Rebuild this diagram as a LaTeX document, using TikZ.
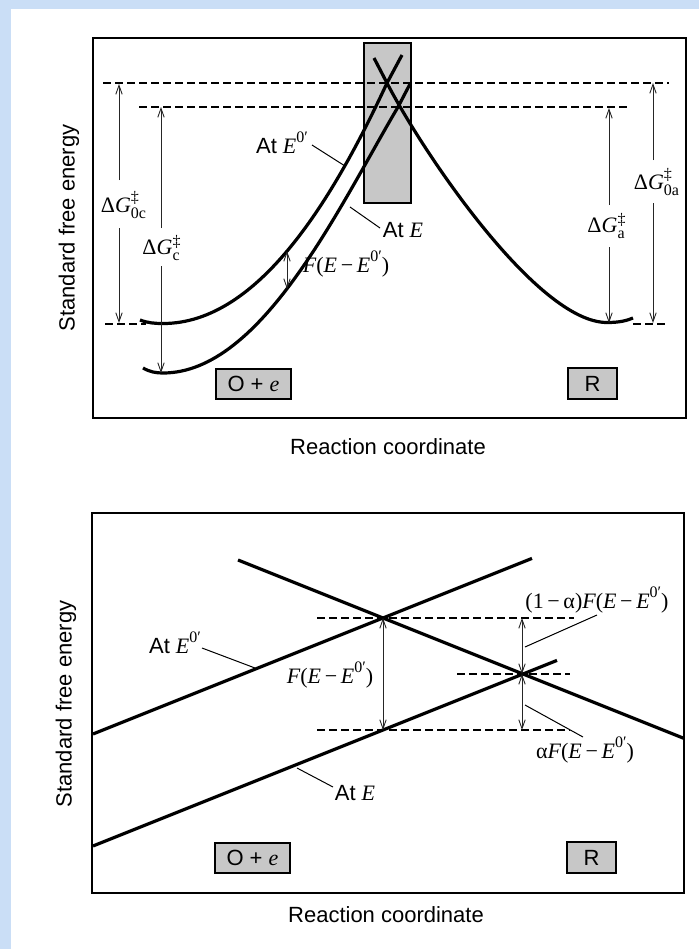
\documentclass[tikz,border=0pt]{standalone}
\usepackage{fontspec}
\setmainfont{Liberation Sans}
\newfontfamily\tms{Liberation Serif}
\usetikzlibrary{arrows.meta}
\definecolor{bgblue}{RGB}{202,222,246}
\newcommand{\tmsi}[1]{{\tms\itshape #1}}
\newcommand{\tmsr}[1]{{\tms #1}}
\newcommand{\tmsss}[1]{\mbox{\tms\fontsize{8}{9}\selectfont #1}}
\newcommand{\tmsup}[1]{\raisebox{0.9ex}{\tmsss{#1}}}
\newcommand{\Ezp}{\tmsi{E}\tmsup{0′}}
\newcommand{\FEE}{\tmsi{F}\tmsr{(}\tmsi{E}\tmsr{\,−\,}\Ezp\tmsr{)}}
\newcommand{\dG}[1]{$\mbox{\tmsr{Δ}\tmsi{G}}^{\tmsss{‡}}_{\tmsss{#1}}$}
\begin{document}
\begin{tikzpicture}[x=0.5pt,y=-0.5pt,
  curve/.style={line width=1.6pt, line join=round},
  frame/.style={line width=1pt},
  dline/.style={line width=0.6pt, dash pattern=on 4pt off 2pt},
  arr/.style={line width=0.45pt, black!85, -{Straight Barb[length=4.5pt,width=3.2pt]}},
  dbl/.style={line width=0.45pt, black!85, {Straight Barb[length=4.5pt,width=3.2pt]}-{Straight Barb[length=4.5pt,width=3.2pt]}},
  lead/.style={line width=0.5pt},
  lbl/.style={font=\fontsize{11}{13}\selectfont, inner sep=0pt},
  spec/.style={draw, line width=0.8pt, fill=black!22, font=\fontsize{11}{13}\selectfont, inner sep=0pt},
]
\fill[bgblue] (0,0) rectangle (699,949);
\fill[white] (11,9) rectangle (699,949);
\useasboundingbox (0,0) rectangle (699,949);

% ================= TOP PANEL =================
\draw[frame] (93,38) rectangle (686,418);
\node[spec, minimum width=23.5pt, minimum height=80pt] (ts) at (387.5,123) {};
\node[spec, minimum width=37.5pt, minimum height=15pt] (ox1) at (253.5,384) {O + \tmsi{e}};
\node[spec, minimum width=24.5pt, minimum height=15.5pt] (r1) at (592.5,383.5) {R};

\draw[dline] (103,83) -- (669,83);
\draw[dline] (139,107) -- (627,107);
\draw[dline] (105,324) -- (146,324);
\draw[dline] (633,324) -- (667,324);

% curve at E0'
\draw[curve] (140,320) .. controls (148,323) and (155,323.5) .. (163,323.5)
  .. controls (260,323.5) and (335,195) .. (387,83) -- (402,55);
% curve at E
\draw[curve] (143,368) .. controls (150,372) and (156,373) .. (163,373)
  .. controls (262,373) and (340,205) .. (398,107) -- (410,84);
% curve R
\draw[curve] (374,58) -- (387,83) .. controls (422,151) and (537,322.5) .. (607,322.5)
  .. controls (620,322.5) and (627,320.5) .. (633,318);

\node[lbl] (g0c) at (124,205) {\dG{0c}};
\node[lbl] (gc) at (162,248) {\dG{c}};
\node[lbl] (ga) at (607,226) {\dG{a}};
\node[lbl] (g0a) at (657,182) {\dG{0a}};

\coordinate (g0c1) at (119,180); \coordinate (g0c2) at (119,84);
\coordinate (g0c3) at (119,228); \coordinate (g0c4) at (119,323);
\coordinate (gc1) at (161,228); \coordinate (gc2) at (161,107);
\coordinate (gc3) at (161,266); \coordinate (gc4) at (161,373);
\coordinate (ga1) at (609,205); \coordinate (ga2) at (609,108);
\coordinate (ga3) at (609,247); \coordinate (ga4) at (609,323);
\coordinate (g0a1) at (653,160); \coordinate (g0a2) at (653,83);
\coordinate (g0a3) at (653,203); \coordinate (g0a4) at (653,323);
\draw[arr] (g0c1) -- (g0c2); \draw[arr] (g0c3) -- (g0c4);
\draw[arr] (gc1) -- (gc2); \draw[arr] (gc3) -- (gc4);
\draw[arr] (ga1) -- (ga2); \draw[arr] (ga3) -- (ga4);
\draw[arr] (g0a1) -- (g0a2); \draw[arr] (g0a3) -- (g0a4);

\coordinate (f1a) at (287,251); \coordinate (f1b) at (287,289);
\draw[dbl] (f1a) -- (f1b);
\node[lbl, anchor=base] (f1) at (346,272) {\FEE};

\node[lbl, anchor=base] (ae01) at (282,153) {At \Ezp};
\coordinate (ae01s) at (312,145); \coordinate (ae01e) at (345,166);
\draw[lead] (ae01s) -- (ae01e);
\node[lbl, anchor=base] (ae1) at (403,237) {At \tmsi{E}};
\coordinate (ae1s) at (380,228); \coordinate (ae1e) at (350,207);
\draw[lead] (ae1s) -- (ae1e);

\node[lbl, rotate=90] (y1) at (69,228) {Standard free energy};
\node[lbl] (x1) at (388,447) {Reaction coordinate};

% ================= BOTTOM PANEL =================
\draw[frame] (92,513) rectangle (684,893);
\node[spec, minimum width=37.5pt, minimum height=15pt] (ox2) at (252.5,858) {O + \tmsi{e}};
\node[spec, minimum width=24.5pt, minimum height=15.5pt] (r2) at (591.5,857.5) {R};

\draw[dline] (317,618) -- (574,618);
\draw[dline] (457,674) -- (570,674);
\draw[dline] (317,730) -- (570,730);

\coordinate (u1) at (93,734); \coordinate (u2) at (532,558.4);
\coordinate (l1) at (93,846); \coordinate (l2) at (557,660.4);
\coordinate (d1) at (238,560); \coordinate (d2) at (684,738.4);
\draw[curve] (u1) -- (u2);
\draw[curve] (l1) -- (l2);
\draw[curve] (d1) -- (d2);

\coordinate (c1) at (383,618); \coordinate (c1b) at (383,730);
\coordinate (c2a) at (522,618); \coordinate (c2) at (522,674); \coordinate (c2b) at (522,730);
\draw[dbl] (c1) -- (c1b);
\draw[dbl] (c2a) -- (c2);
\draw[dbl] (c2) -- (c2b);

\node[lbl, anchor=base] (f2) at (330,683) {\FEE};
\node[lbl, anchor=base] (fa) at (597,608) {\tmsr{(1\,−\,α)}\FEE};
\node[lbl, anchor=base] (fb) at (585,758) {\tmsr{α}\FEE};
\coordinate (fas) at (597,615); \coordinate (fae) at (525,647);
\coordinate (fbs) at (583,737); \coordinate (fbe) at (525,705);
\draw[lead] (fas) -- (fae);
\draw[lead] (fbs) -- (fbe);

\node[lbl, anchor=base] (ae02) at (175,653) {At \Ezp};
\coordinate (ae02s) at (202,648); \coordinate (ae02e) at (255,668);
\draw[lead] (ae02s) -- (ae02e);
\node[lbl, anchor=base] (ae2) at (355,800) {At \tmsi{E}};
\coordinate (ae2s) at (333,787); \coordinate (ae2e) at (297,768);
\draw[lead] (ae2s) -- (ae2e);

\node[lbl, rotate=90] (y2) at (66,704) {Standard free energy};
\node[lbl] (x2) at (386,915) {Reaction coordinate};
\end{tikzpicture}
\end{document}
